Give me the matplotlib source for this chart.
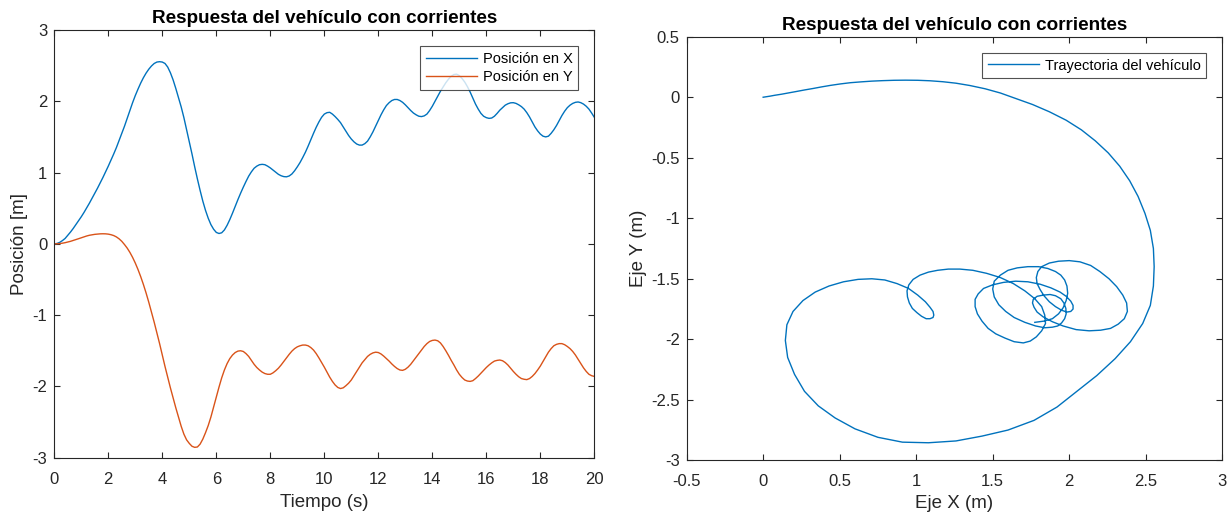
import numpy as np
import matplotlib
matplotlib.use("Agg")
import matplotlib.pyplot as plt
from matplotlib.ticker import FuncFormatter

plt.rcParams["font.family"] = ["Liberation Sans", "DejaVu Sans"]
plt.rcParams["axes.unicode_minus"] = False

# --- data (time step 0.1 s) ---
tiempo = [round(0.1 * i, 1) for i in range(201)]

pos_x = [
    0.000, 0.005, 0.02, 0.045, 0.075, 0.12, 0.165, 0.215, 0.27, 0.325,    # 0.0-0.9
    0.38, 0.44, 0.505, 0.57, 0.64, 0.71, 0.78, 0.855, 0.93, 1.01,        # 1.0-1.9
    1.09, 1.175, 1.26, 1.35, 1.45, 1.55, 1.65, 1.76, 1.87, 1.98,         # 2.0-2.9
    2.08, 2.17, 2.255, 2.33, 2.395, 2.45, 2.495, 2.53, 2.55, 2.555,      # 3.0-3.9
    2.55, 2.53, 2.48, 2.40, 2.30, 2.18, 2.05, 1.92, 1.77, 1.60,          # 4.0-4.9
    1.43, 1.26, 1.08, 0.91, 0.75, 0.60, 0.47, 0.36, 0.27, 0.205,         # 5.0-5.9
    0.16, 0.145, 0.155, 0.195, 0.26, 0.34, 0.43, 0.525, 0.62, 0.71,      # 6.0-6.9
    0.795, 0.875, 0.95, 1.01, 1.06, 1.09, 1.11, 1.115, 1.11, 1.09,       # 7.0-7.9
    1.065, 1.035, 1.005, 0.975, 0.955, 0.943, 0.94, 0.952, 0.98, 1.025,  # 8.0-8.9
    1.08, 1.14, 1.21, 1.285, 1.37, 1.46, 1.55, 1.635, 1.71, 1.775,       # 9.0-9.9
    1.82, 1.84, 1.845, 1.82, 1.785, 1.745, 1.70, 1.64, 1.58, 1.52,       # 10.0-10.9
    1.47, 1.43, 1.40, 1.385, 1.385, 1.405, 1.44, 1.50, 1.57, 1.65,       # 11.0-11.9
    1.73, 1.81, 1.88, 1.94, 1.98, 2.01, 2.025, 2.025, 2.01, 1.985,       # 12.0-12.9
    1.95, 1.91, 1.87, 1.835, 1.81, 1.79, 1.785, 1.795, 1.82, 1.87,       # 13.0-13.9
    1.93, 2.00, 2.07, 2.14, 2.20, 2.26, 2.31, 2.35, 2.375, 2.38,         # 14.0-14.9
    2.36, 2.32, 2.27, 2.205, 2.13, 2.045, 1.96, 1.89, 1.83, 1.79,        # 15.0-15.9
    1.77, 1.76, 1.765, 1.79, 1.83, 1.875, 1.91, 1.945, 1.965, 1.978,     # 16.0-16.9
    1.98, 1.97, 1.95, 1.925, 1.89, 1.84, 1.78, 1.71, 1.64, 1.585,        # 17.0-17.9
    1.54, 1.51, 1.50, 1.51, 1.55, 1.60, 1.66, 1.73, 1.80, 1.86,          # 18.0-18.9
    1.91, 1.945, 1.97, 1.985, 1.99, 1.98, 1.96, 1.93, 1.89, 1.835,       # 19.0-19.9
    1.775,
]

pos_y = [
    0.000, 0.001, 0.004, 0.009, 0.016, 0.025, 0.035, 0.047, 0.06, 0.072,        # 0.0-0.9
    0.085, 0.098, 0.11, 0.12, 0.127, 0.133, 0.137, 0.14, 0.141, 0.14,           # 1.0-1.9
    0.136, 0.128, 0.116, 0.097, 0.07, 0.035, -0.01, -0.06, -0.12, -0.19,        # 2.0-2.9
    -0.27, -0.36, -0.46, -0.57, -0.69, -0.82, -0.96, -1.10, -1.25, -1.40,       # 3.0-3.9
    -1.56, -1.72, -1.87, -2.02, -2.16, -2.30, -2.43, -2.56, -2.67, -2.75,       # 4.0-4.9
    -2.80, -2.84, -2.855, -2.85, -2.81, -2.74, -2.65, -2.55, -2.43, -2.29,      # 5.0-5.9
    -2.15, -2.01, -1.88, -1.77, -1.68, -1.61, -1.56, -1.525, -1.505, -1.50,     # 6.0-6.9
    -1.51, -1.54, -1.58, -1.635, -1.69, -1.735, -1.77, -1.80, -1.82, -1.83,     # 7.0-7.9
    -1.83, -1.81, -1.78, -1.745, -1.70, -1.65, -1.60, -1.55, -1.505, -1.47,     # 8.0-8.9
    -1.445, -1.43, -1.42, -1.42, -1.43, -1.455, -1.49, -1.54, -1.60, -1.665,    # 9.0-9.9
    -1.73, -1.80, -1.87, -1.93, -1.98, -2.015, -2.03, -2.02, -1.99, -1.955,     # 10.0-10.9
    -1.91, -1.85, -1.79, -1.73, -1.67, -1.625, -1.58, -1.55, -1.53, -1.52,      # 11.0-11.9
    -1.525, -1.545, -1.575, -1.61, -1.645, -1.685, -1.72, -1.75, -1.77, -1.775, # 12.0-12.9
    -1.76, -1.73, -1.69, -1.64, -1.59, -1.54, -1.49, -1.44, -1.40, -1.37,       # 13.0-13.9
    -1.355, -1.35, -1.36, -1.39, -1.44, -1.50, -1.565, -1.635, -1.70, -1.77,    # 14.0-14.9
    -1.83, -1.875, -1.91, -1.925, -1.93, -1.92, -1.89, -1.855, -1.815, -1.775,  # 15.0-15.9
    -1.735, -1.70, -1.67, -1.645, -1.635, -1.63, -1.64, -1.665, -1.70, -1.745,  # 16.0-16.9
    -1.79, -1.83, -1.865, -1.89, -1.90, -1.905, -1.89, -1.86, -1.82, -1.77,     # 17.0-17.9
    -1.715, -1.65, -1.585, -1.52, -1.47, -1.43, -1.41, -1.40, -1.40, -1.415,    # 18.0-18.9
    -1.44, -1.47, -1.51, -1.56, -1.62, -1.68, -1.74, -1.79, -1.83, -1.85,       # 19.0-19.9
    -1.86,
]

AZUL = "#0072BD"
NARANJA = "#D95319"
GRIS = "#262626"
TITULO = "Respuesta del vehículo con corrientes"


def estilo(ax):
    for s in ax.spines.values():
        s.set_color(GRIS)
        s.set_linewidth(0.8)
    ax.tick_params(direction="in", length=4, width=0.8, colors=GRIS,
                   labelsize=12, top=True, right=True, pad=5)
    ax.tick_params(axis="x", pad=10)


fmt = FuncFormatter(lambda v, p: f"{v:g}")

fig = plt.figure(figsize=(12.31, 5.15), dpi=100)

# --- left: position vs time ---
ax1 = fig.add_axes([0.0441, 0.1113, 0.4387, 0.8305])
ax1.plot(tiempo, pos_x, color=AZUL, lw=1.0, label="Posición en X")
ax1.plot(tiempo, pos_y, color=NARANJA, lw=1.0, label="Posición en Y")
ax1.set_xlim(0, 20)
ax1.set_ylim(-3, 3)
ax1.set_xticks(range(0, 21, 2))
ax1.set_yticks(range(-3, 4))
ax1.xaxis.set_major_formatter(fmt)
ax1.yaxis.set_major_formatter(fmt)
ax1.set_xlabel("Tiempo (s)", fontsize=13.5, color=GRIS, labelpad=5)
ax1.set_ylabel("Posición [m]", fontsize=13.5, color=GRIS, labelpad=3)
ax1.set_title(TITULO, fontsize=13.6, fontweight="bold", pad=5)
estilo(ax1)
leg1 = ax1.legend(loc="upper right", fontsize=10.5, frameon=True, fancybox=False,
                  edgecolor=GRIS, handlelength=3.5, borderaxespad=1.1,
                  labelspacing=0.3, borderpad=0.4, handletextpad=0.4)
leg1.get_frame().set_linewidth(0.8)

# --- right: trajectory ---
ax2 = fig.add_axes([0.5578, 0.1062, 0.4351, 0.8225])
ax2.plot(pos_x, pos_y, color=AZUL, lw=1.0, label="Trayectoria del vehículo")
ax2.set_xlim(-0.5, 3)
ax2.set_ylim(-3, 0.5)
ax2.set_xticks(np.arange(-0.5, 3.01, 0.5))
ax2.set_yticks(np.arange(-3, 0.51, 0.5))
ax2.xaxis.set_major_formatter(fmt)
ax2.yaxis.set_major_formatter(fmt)
ax2.set_xlabel("Eje X (m)", fontsize=13.5, color=GRIS, labelpad=4)
ax2.set_ylabel("Eje Y (m)", fontsize=13.5, color=GRIS, labelpad=3)
ax2.set_title(TITULO, fontsize=13.6, fontweight="bold", pad=5)
estilo(ax2)
leg2 = ax2.legend(loc="upper right", fontsize=10.5, frameon=True, fancybox=False,
                  edgecolor=GRIS, handlelength=3.5, borderaxespad=1.1,
                  borderpad=0.4, handletextpad=0.4)
leg2.get_frame().set_linewidth(0.8)

fig.savefig("out.png", dpi=100)
